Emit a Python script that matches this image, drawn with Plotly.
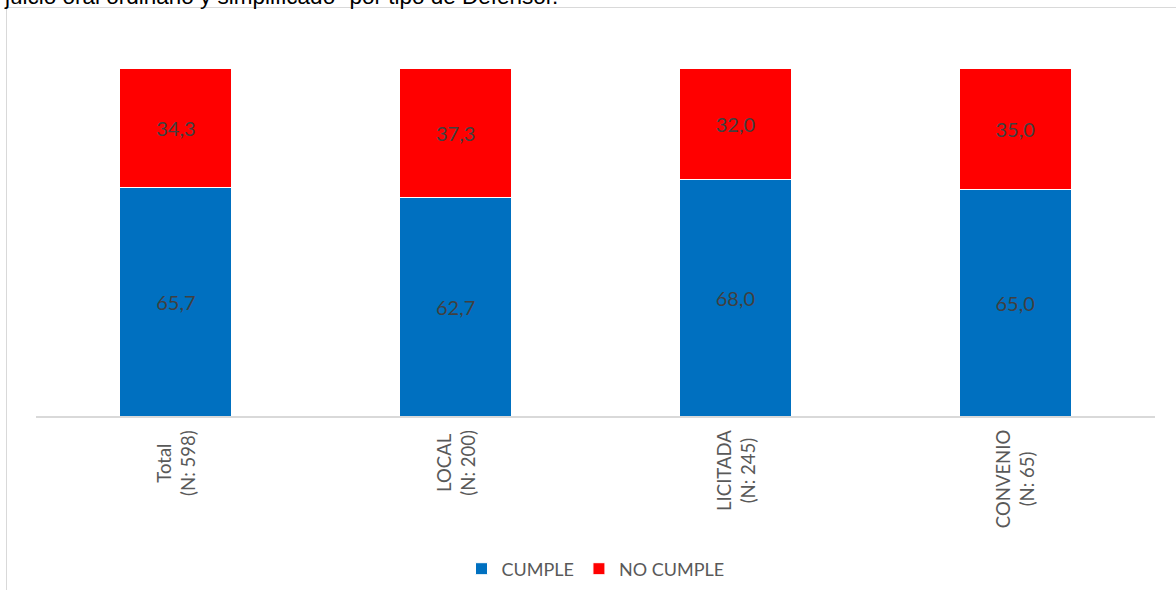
import plotly.graph_objects as go

categories = ["Total<br>(N: 598)", "LOCAL<br>(N: 200)", "LICITADA<br>(N: 245)", "CONVENIO<br>(N: 65)"]
cat_keys = ["Total", "LOCAL", "LICITADA", "CONVENIO"]
cumple = [65.7, 62.7, 68.0, 65.0]
no_cumple = [34.3, 37.3, 32.0, 35.0]
series_names = ["CUMPLE", "NO CUMPLE"]
title_text = 'juicio oral ordinario y simplificado" por tipo de Defensor.'

W, H = 1176, 590
L, R, T, B = 36, 21, 68, 174
PW = W - L - R
PH = H - T - B

label_font = dict(family="Lato, Noto Sans, sans-serif", size=20, color="#404040")

fig = go.Figure()
fig.add_trace(go.Bar(
    x=cat_keys, y=cumple, name=series_names[0],
    marker=dict(color="#0070C0", line=dict(color="white", width=1)),
    texttemplate="%{y:.1f}", textposition="inside", insidetextanchor="middle",
    textfont=label_font, constraintext="none", hoverinfo="skip",
))
fig.add_trace(go.Bar(
    x=cat_keys, y=no_cumple, name=series_names[1],
    marker=dict(color="#FF0000", line=dict(color="white", width=1)),
    texttemplate="%{y:.1f}", textposition="inside", insidetextanchor="middle",
    textfont=label_font, constraintext="none", hoverinfo="skip",
))

# category labels (rotated, centered lines)
for key, lab in zip(cat_keys, categories):
    fig.add_annotation(
        x=key, xref="x", y=0, yref="paper", yanchor="top", xanchor="center",
        yshift=-12, text=lab, textangle=-90, showarrow=False, align="center",
        font=dict(family="Lato, Noto Sans, sans-serif", size=18.5, color="#595959"),
    )

# cut-off title at top
fig.add_annotation(
    x=(2 - L) / PW, xref="paper", xanchor="left",
    y=(H - B - 11) / PH, yref="paper", yanchor="bottom",
    text=title_text, showarrow=False,
    font=dict(family="Liberation Sans, Arial, sans-serif", size=22.5, color="#000000"),
)

# chart border
fig.add_shape(
    type="rect", xref="paper", yref="paper",
    x0=(6.5 - L) / PW, x1=1.3, y0=-1.5, y1=(H - B - 7.5) / PH,
    line=dict(color="#d9d9d9", width=1), fillcolor="rgba(0,0,0,0)", layer="below",
)

fig.update_layout(
    width=W, height=H,
    margin=dict(l=L, r=R, t=T, b=B, pad=0, autoexpand=False),
    barmode="stack", bargap=0.6,
    separators=",.",
    plot_bgcolor="white", paper_bgcolor="white",
    showlegend=True,
    legend=dict(
        orientation="h", x=0.5, xanchor="center",
        yref="container", y=(H - 569) / H, yanchor="middle",
        font=dict(family="Lato, Noto Sans, sans-serif", size=18, color="#595959"),
        traceorder="normal", itemclick=False,
    ),
    xaxis=dict(
        type="category", range=[-0.5, 3.5], showticklabels=False, ticks="",
        showline=True, linecolor="#d9d9d9", linewidth=2, showgrid=False, zeroline=False,
        fixedrange=True,
    ),
    yaxis=dict(
        range=[0, 100], visible=False, showgrid=False, zeroline=False, fixedrange=True,
    ),
)

fig.write_html(
    "out.html",
    config={"displayModeBar": False},
    post_script="document.body.style.margin='0';document.body.style.overflow='hidden';",
)
